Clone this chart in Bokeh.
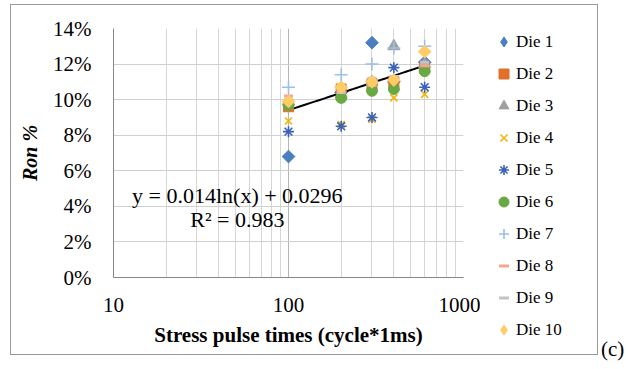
from bokeh.plotting import figure
from bokeh.models import (Range1d, FixedTicker, NumeralTickFormatter, Legend, LegendItem,
                          Label, Div)
from bokeh.layouts import row, column
from bokeh.embed import file_html
from bokeh.resources import INLINE
import numpy as np

# ---------------- data ----------------
cycles = [100, 200, 300, 400, 600]
die_names = ["Die 1", "Die 2", "Die 3", "Die 4", "Die 5",
             "Die 6", "Die 7", "Die 8", "Die 9", "Die 10"]
die1 = [6.8, 10.4, 13.2, 11.0, 12.1]
die2 = [9.6, 10.6, 10.9, 11.0, 11.8]
die3 = [9.9, 10.3, 11.0, 13.0, 12.0]
die4 = [8.8, 8.6, 8.9, 10.1, 10.3]
die5 = [8.2, 8.5, 9.0, 11.8, 10.7]
die6 = [9.7, 10.1, 10.5, 10.6, 11.6]
die7 = [10.7, 11.4, 12.0, 12.9, 13.0]
die8 = [10.2, 10.5, 10.8, 11.2, 11.9]
die9 = [10.0, 10.4, 11.2, 11.3, 12.1]
die10 = [9.9, 10.7, 11.0, 11.1, 12.7]
fit_a = 0.014
fit_b = 0.0296
eq_text = "y = 0.014ln(x) + 0.0296"
r2_text = "R\u00b2 = 0.983"
panel_tag = "(c)"
x_ticks = [10, 100, 1000]
x_minor = [20, 30, 40, 50, 60, 70, 80, 90, 200, 300, 400, 500, 600, 700, 800, 900]
y_ticks = [0, 0.02, 0.04, 0.06, 0.08, 0.10, 0.12, 0.14]

series = [die1, die2, die3, die4, die5, die6, die7, die8, die9, die10]
markers = ["square", "square", "triangle", "x", "asterisk",
           "circle", "cross", "dash", "dash", "square"]
legend_markers = ["diamond", "square", "triangle", "x", "asterisk",
                  "circle", "cross", "dash", "dash", "diamond"]
angles = [np.pi / 4, 0, 0, 0, 0, 0, 0, 0, 0, np.pi / 4]
colors = ["#4a7fbf", "#e0702a", "#a0a0a0", "#f2b400", "#3a62b8",
          "#6aa843", "#9cc0e8", "#f4a78a", "#c4c4c4", "#ffcc66"]
sizes = [9, 10, 12, 10, 11, 11, 13, 9, 9, 9]

FONT = "Liberation Serif"


def add_series(fig, marker_list):
    rs = []
    for vals, mk, ang, col, sz in zip(series, marker_list, angles, colors, sizes):
        yv = [v / 100 for v in vals]
        if mk in ("x", "asterisk", "cross"):
            r = fig.scatter(cycles, yv, marker=mk, size=sz, line_color=col,
                            fill_color=col, line_width=1.6)
        elif mk == "dash":
            r = fig.scatter(cycles, yv, marker=mk, size=sz, line_color=col,
                            fill_color=col, line_width=3)
        else:
            r = fig.scatter(cycles, yv, marker=mk, size=sz, angle=ang, line_color=col,
                            fill_color=col, line_width=1)
        rs.append(r)
    return rs


p = figure(width=469, height=349, x_axis_type="log",
           x_range=Range1d(10, 1000), y_range=Range1d(0, 0.14),
           output_backend="svg", toolbar_location=None,
           min_border_left=102, min_border_right=17,
           min_border_top=23, min_border_bottom=77)
p.outline_line_color = None
p.background_fill_color = "white"
p.border_fill_color = "white"

# grid
p.xaxis.ticker = FixedTicker(ticks=x_ticks, minor_ticks=x_minor)
p.yaxis.ticker = FixedTicker(ticks=y_ticks)
p.xgrid.grid_line_color = "#b5b5b5"
p.xgrid.minor_grid_line_color = "#d6d6d6"
p.ygrid.grid_line_color = "#d0d0d0"

# axes
for ax in (p.xaxis[0], p.yaxis[0]):
    ax.axis_line_color = "#868686"
    ax.major_tick_line_color = None
    ax.minor_tick_line_color = None
    ax.major_label_text_font = FONT
    ax.major_label_text_font_size = "21px"
    ax.major_label_text_color = "black"
    ax.axis_label_text_font = FONT
    ax.axis_label_text_color = "black"

p.xaxis.formatter = NumeralTickFormatter(format="0")
p.yaxis.formatter = NumeralTickFormatter(format="0%")
p.xaxis.major_label_standoff = 14
p.yaxis.major_label_standoff = 16
p.xaxis.axis_label = "Stress pulse times (cycle*1ms)"
p.xaxis.axis_label_text_font_style = "bold"
p.xaxis.axis_label_text_font_size = "21px"
p.xaxis.axis_label_standoff = 8
p.yaxis.axis_label = "Ron %"
p.yaxis.axis_label_text_font_style = "bold italic"
p.yaxis.axis_label_text_font_size = "20px"
p.yaxis.axis_label_standoff = 9

# trend line
xt = np.linspace(cycles[0], cycles[-1], 60)
p.line(xt, fit_a * np.log(xt) + fit_b, line_color="black", line_width=2)

add_series(p, markers)

# equation labels
p.add_layout(Label(x=51, y=0.046, text=eq_text, text_font=FONT,
                   text_font_size="22px", text_align="center",
                   text_baseline="middle", text_color="black"))
p.add_layout(Label(x=51, y=0.0326, text=r2_text, text_font=FONT,
                   text_font_size="22px", text_align="center",
                   text_baseline="middle", text_color="black"))

# ---------------- legend panel (same series, data outside its view) ----------------
leg = figure(width=117, height=349, x_range=Range1d(0, 1), y_range=Range1d(-1, 0),
             x_axis_location=None, y_axis_location=None,
             output_backend="svg", toolbar_location=None,
             min_border_left=0, min_border_right=0, min_border_top=0, min_border_bottom=0)
leg.grid.visible = False
leg.outline_line_color = None
leg.background_fill_color = "white"
leg.border_fill_color = "white"
leg_rs = add_series(leg, legend_markers)

items = [LegendItem(label=n, renderers=[r]) for n, r in zip(die_names, leg_rs)]
legend = Legend(items=items, location=(11, 12))
legend.border_line_color = None
legend.background_fill_alpha = 0
legend.padding = 0
legend.margin = 0
legend.spacing = 7
legend.glyph_width = 25
legend.glyph_height = 25
legend.label_height = 20
legend.label_standoff = 0
legend.label_text_font = FONT
legend.label_text_font_size = "17px"
legend.label_text_color = "black"
leg.add_layout(legend)

box = row(column(p), column(leg), margin=(5, 0, 0, 11),
          styles={"outline": "1.5px solid #999999"})

tag = Div(text=panel_tag, width=30, height=24, margin=(337, 0, 0, 4),
          styles={"font-family": FONT, "font-size": "21px", "color": "black",
                  "line-height": "24px"})

layout = row(box, tag)
open("out.html", "w").write(file_html(layout, INLINE))
